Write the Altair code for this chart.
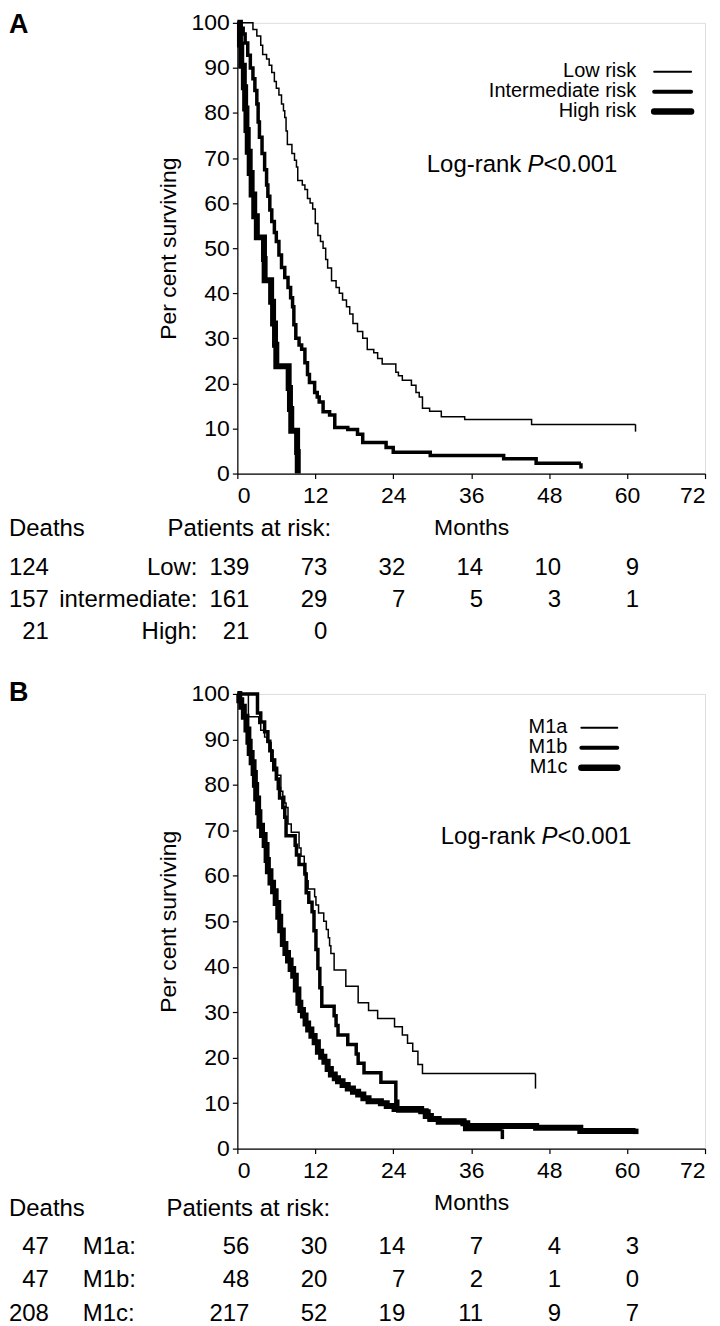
import altair as alt
import pandas as pd

FONT = "Liberation Sans"
TICKS = [0, 12, 24, 36, 48, 60, 72]
Y_TICKS = [0, 10, 20, 30, 40, 50, 60, 70, 80, 90, 100]
RISK_MONTHS = [0, 12, 24, 36, 48, 60]

# ---------------- Panel A : risk groups ----------------
low_month = [0, 2.4, 3.0, 3.6, 3.9, 4.5, 4.9, 5.3, 5.7, 6.0, 6.4, 6.8, 7.1, 7.3, 7.5, 7.7,
             8.4, 8.8, 9.1, 9.3, 10.0, 10.4, 10.8, 11.2, 11.6, 12.0, 12.4, 12.8, 13.2, 13.6,
             13.9, 14.5, 15.2, 15.7, 16.2, 16.8, 17.3, 17.8, 18.5, 19.3, 20.0, 21.0, 21.6,
             22.3, 24.4, 24.8, 25.4, 26.8, 27.5, 28.0, 28.5, 29.6, 31.4, 35.0, 45.3, 61.3]
low_surv = [100, 98.5, 97.1, 95.0, 93.0, 92.0, 90.6, 89.0, 87.0, 85.5, 84.0, 82.0, 80.5, 79.0,
            76.0, 73.0, 71.0, 69.5, 68.0, 65.0, 64.0, 63.0, 61.0, 60.0, 58.7, 55.5, 52.8, 51.5,
            50.0, 47.5, 45.6, 42.8, 41.3, 40.0, 38.5, 37.0, 35.4, 33.3, 31.5, 30.0, 27.5, 26.8,
            25.5, 24.3, 22.5, 21.7, 20.7, 19.6, 18.0, 17.0, 14.5, 13.8, 12.6, 12.0, 10.9, 10.9]

int_month = [0, 0.5, 0.9, 1.2, 1.6, 2.0, 2.4, 2.7, 3.0, 3.2, 3.4, 3.8, 4.2, 4.5, 4.7, 5.0, 5.3,
             5.7, 6.0, 6.4, 6.8, 7.3, 7.8, 8.2, 8.5, 8.7, 9.0, 9.5, 9.9, 10.4, 10.8, 11.1, 11.9,
             12.3, 12.6, 13.2, 14.2, 15.0, 17.0, 18.5, 19.3, 22.9, 24.0, 29.7, 41.0, 46.0, 52.9]
int_surv = [100, 98.8, 97.5, 95.5, 92.8, 90.0, 87.6, 85.0, 82.0, 78.0, 74.6, 71.0, 67.4, 64.0,
            61.5, 58.5, 55.9, 53.5, 51.5, 48.5, 45.7, 43.5, 41.3, 39.0, 37.0, 33.0, 30.0, 28.5,
            27.6, 24.6, 22.0, 20.2, 18.0, 17.0, 15.9, 13.7, 13.0, 10.2, 9.8, 8.7, 6.9, 5.8,
            4.7, 4.0, 3.3, 2.3, 2.3]

high_month = [0, 0.4, 0.6, 1.0, 1.2, 1.4, 1.6, 1.9, 2.2, 2.6, 3.0, 4.1, 4.2, 5.2, 5.5, 5.8,
              6.0, 7.9, 8.1, 8.3, 9.2, 9.3]
high_surv = [100, 95.2, 90.5, 85.7, 81.0, 76.2, 71.4, 66.7, 61.9, 57.1, 52.4, 47.6, 42.9, 38.1,
             33.3, 28.6, 23.8, 19.0, 14.3, 9.5, 4.8, 0]

# censoring marks at the end of each curve: month, from, to
a_end_month = [61.3, 52.9]
a_end_from = [10.9, 2.3]
a_end_to = [9.3, 1.1]

a_groups = ["Low:", "intermediate:", "High:"]
a_deaths = ["124", "157", "21"]
a_risk = [[139, 73, 32, 14, 10, 9], [161, 29, 7, 5, 3, 1], [21, 0]]
a_legend = ["Low risk", "Intermediate risk", "High risk"]

# ---------------- Panel B : M stage ----------------
m1a_month = [0, 1.7, 3.3, 3.6, 4.2, 4.6, 5.2, 5.5, 5.9, 6.2, 6.7, 7.0, 7.3, 7.5, 7.8, 8.3, 9.5,
             9.8, 10.3, 10.6, 10.9, 11.9, 12.1, 12.5, 13.3, 13.7, 14.0, 14.2, 14.4, 14.9, 16.7,
             18.6, 20.2, 21.6, 24.2, 25.4, 26.2, 27.0, 27.8, 28.5, 45.9]
m1a_surv = [100, 95.0, 93.5, 92.0, 90.5, 89.3, 87.5, 85.7, 83.9, 82.1, 78.6, 77.5, 76.0, 75.0,
            71.4, 69.6, 66.1, 64.3, 60.7, 58.9, 57.1, 55.4, 53.6, 51.8, 50.0, 48.2, 46.4, 44.6,
            42.9, 39.3, 35.7, 32.1, 30.4, 28.6, 26.8, 25.0, 23.2, 21.4, 18.5, 16.5, 16.5]

m1b_month = [0, 3.1, 3.6, 4.2, 4.7, 5.0, 5.3, 5.6, 6.0, 6.3, 6.5, 7.0, 7.3, 7.5, 8.9, 9.1, 9.5,
             10.4, 10.6, 11.0, 11.5, 11.8, 12.1, 12.4, 12.7, 13.0, 14.9, 15.2, 15.5, 17.0, 18.3,
             18.6, 19.5, 22.1, 24.4, 24.7, 29.5, 35.0, 40.8]
m1b_surv = [100, 95.8, 93.8, 91.7, 89.6, 87.5, 85.4, 83.3, 81.3, 79.2, 77.1, 75.0, 72.9, 68.8,
            66.7, 64.6, 62.5, 60.4, 56.3, 54.2, 52.1, 47.9, 43.8, 39.6, 35.4, 31.3, 29.2, 27.1,
            25.0, 22.9, 20.8, 18.8, 16.7, 14.6, 10.4, 8.3, 6.3, 4.2, 4.2]

m1c_month = [0, 0.3, 0.6, 1.0, 1.4, 1.7, 1.9, 2.2, 2.5, 2.7, 2.9, 3.2, 3.4, 3.8, 4.2, 4.5, 4.7,
             5.1, 5.5, 5.9, 6.3, 6.6, 7.0, 7.4, 7.8, 8.2, 8.6, 9.0, 9.4, 9.7, 10.1, 10.5, 10.9,
             11.4, 11.9, 12.4, 12.9, 13.4, 13.9, 14.4, 15.0, 15.5, 16.2, 17.0, 17.8, 18.6, 19.4,
             20.2, 22.1, 23.0, 24.2, 28.3, 29.0, 29.8, 31.0, 34.8, 35.4, 46.0, 52.8, 61.3]
m1c_surv = [100, 98.6, 97.2, 95.0, 92.2, 89.5, 87.0, 85.0, 82.6, 80.0, 77.0, 74.0, 71.0, 69.0,
            66.8, 63.5, 61.0, 58.5, 56.6, 54.0, 51.0, 48.0, 45.0, 43.0, 41.4, 39.5, 38.0, 35.0,
            32.1, 30.5, 29.3, 27.5, 26.2, 24.8, 23.4, 21.3, 20.2, 19.1, 17.5, 16.3, 15.5, 14.8,
            14.0, 13.2, 12.5, 11.9, 11.1, 10.4, 10.0, 9.4, 8.7, 8.2, 7.2, 6.5, 5.9, 5.6, 5.0,
            4.6, 3.9, 3.9]

b_end_month = [45.9, 40.8, 61.3]
b_end_from = [16.5, 4.2, 4.4]
b_end_to = [13.2, 2.1, 3.2]

b_groups = ["M1a:", "M1b:", "M1c:"]
b_deaths = ["47", "47", "208"]
b_risk = [[56, 30, 14, 7, 4, 3], [48, 20, 7, 2, 1, 0], [217, 52, 19, 11, 9, 7]]
b_legend = ["M1a", "M1b", "M1c"]

# ---------------- helpers ----------------
W = 469
H_A, H_B = 452, 456
FS = 23
XS = alt.Scale(domain=[0, 72], nice=False, zero=False)
YS = alt.Scale(domain=[0, 100], nice=False)
XA = alt.Axis(values=TICKS, title="Months", grid=False, tickSize=5, labelPadding=6,
              titlePadding=9, labelFontSize=FS, titleFontSize=FS, titleFontWeight="normal",
              domainColor="black", tickColor="black", labelColor="black", titleColor="black",
              domainWidth=1.2, tickWidth=1.2, labelFont=FONT, titleFont=FONT)
YA = alt.Axis(values=Y_TICKS, title="Per cent surviving", grid=False, tickSize=5,
              labelPadding=3, titlePadding=11, labelFontSize=FS, titleFontSize=FS,
              titleFontWeight="normal", domainColor="black", tickColor="black",
              labelColor="black", titleColor="black", domainWidth=1.2, tickWidth=1.2,
              labelFont=FONT, titleFont=FONT)


def one(s):
    return pd.DataFrame({"t": [s]})


def text(s, x, y, size=FS, align="left", **kw):
    return alt.Chart(one(s)).mark_text(font=FONT, fontSize=size, align=align,
                                       baseline="middle", color="black", **kw).encode(
        x=alt.value(x), y=alt.value(y), text="t:N")


def curve(months, surv, width):
    df = pd.DataFrame({"month": months, "surv": surv})
    return alt.Chart(df).mark_line(interpolate="step-after", color="black",
                                   strokeWidth=width, strokeJoin="miter").encode(
        x=alt.X("month:Q", scale=XS, axis=XA), y=alt.Y("surv:Q", scale=YS, axis=YA))


def censor(m, a, b, width):
    df = pd.DataFrame({"month": [m], "surv": [a], "low": [b]})
    return alt.Chart(df).mark_rule(color="black", strokeWidth=width).encode(
        x=alt.X("month:Q", scale=XS, axis=XA), y=alt.Y("surv:Q", scale=YS, axis=YA),
        y2="low:Q")


def risk_row(counts, y):
    df = pd.DataFrame({"month": RISK_MONTHS[:len(counts)], "n": [str(c) for c in counts]})
    return alt.Chart(df).mark_text(font=FONT, fontSize=24, align="right", baseline="middle",
                                   dx=12, color="black").encode(
        x=alt.X("month:Q", scale=XS, axis=XA), y=alt.value(y), text="n:N")


def legend_line(x1, x2, y, width):
    return alt.Chart(one("")).mark_rule(color="black", strokeWidth=width,
                                        strokeCap="round").encode(
        x=alt.value(x1), x2=alt.value(x2), y=alt.value(y))


def logrank(x, y):
    return [text("Log-rank", x, y, size=24),
            text("P", x + 101, y, size=24, fontStyle="italic"),
            text("<0.001", x + 117, y, size=24)]


widths = [1.5, 3.5, 6]
LEFT = -229

# ---------------- Panel A ----------------
layers_a = [curve(low_month, low_surv, widths[0]),
            curve(int_month, int_surv, widths[1]),
            curve(high_month, high_surv, widths[2])]
for i in range(len(a_end_month)):
    layers_a.append(censor(a_end_month[i], a_end_from[i], a_end_to[i], widths[i]))
layers_a.append(text("A", LEFT, 2, size=27, fontWeight="bold"))
for i, lab in enumerate(a_legend):
    y = [48, 68, 88][i]
    layers_a.append(text(lab, 400, y, size=20, align="right"))
    layers_a.append(legend_line(418, 455, y + 1, widths[i] + 0.5))
layers_a += logrank(190, 143)
layers_a.append(text("Deaths", LEFT, 508, size=24))
layers_a.append(text("Patients at risk:", 94, 508, size=24, align="right"))
for i in range(3):
    y = [547, 579, 611][i]
    layers_a.append(text(a_deaths[i], -189, y, size=24, align="right"))
    layers_a.append(text(a_groups[i], -40, y, size=24, align="right"))
    layers_a.append(risk_row(a_risk[i], y))
panel_a = alt.layer(*layers_a).properties(width=W, height=H_A)

# ---------------- Panel B ----------------
layers_b = [curve(m1a_month, m1a_surv, widths[0]),
            curve(m1b_month, m1b_surv, widths[1]),
            curve(m1c_month, m1c_surv, widths[2])]
for i in range(len(b_end_month)):
    layers_b.append(censor(b_end_month[i], b_end_from[i], b_end_to[i], widths[i]))
layers_b.append(text("B", LEFT, -1, size=27, fontWeight="bold"))
for i, lab in enumerate(b_legend):
    y = [33, 53, 73][i]
    layers_b.append(text(lab, 331, y, size=20, align="right"))
    layers_b.append(legend_line(345, 381, y + 1, widths[i] + 0.5))
layers_b += logrank(204, 143)
layers_b.append(text("Deaths", LEFT, 517, size=24))
layers_b.append(text("Patients at risk:", 93, 517, size=24, align="right"))
for i in range(3):
    y = [555, 588, 622][i]
    layers_b.append(text(b_deaths[i], -189, y, size=24, align="right"))
    layers_b.append(text(b_groups[i], -155, y, size=24, align="left"))
    layers_b.append(risk_row(b_risk[i], y))
panel_b = alt.layer(*layers_b).properties(width=W, height=H_B)

chart = alt.vconcat(panel_a, panel_b, spacing=33).properties(
    padding={"left": 0, "top": 0, "right": 5, "bottom": 0}
).configure_view(stroke=None).configure(background="white")

chart.save("out.html", embed_options={"renderer": "svg", "actions": False})
